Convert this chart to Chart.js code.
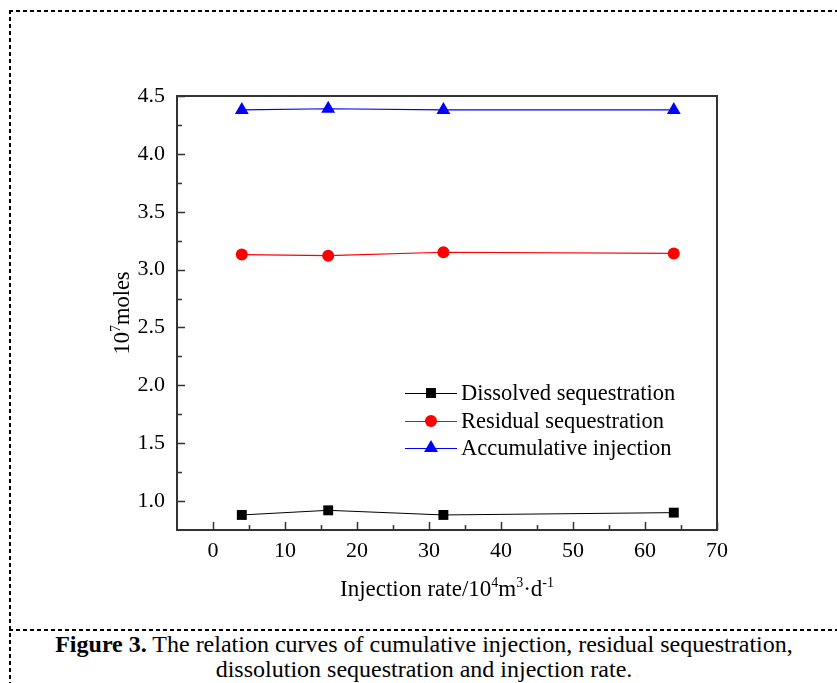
<!DOCTYPE html>
<html>
<head>
<meta charset="utf-8">
<script src="https://cdn.jsdelivr.net/npm/chart.js@4"></script>
<style>
  html, body { margin: 0; padding: 0; background: #fff; }
  body { width: 837px; height: 683px; position: relative; overflow: hidden; font-family: "Liberation Serif", "Times New Roman", serif; }
  .dash-h { position: absolute; height: 2px; background: repeating-linear-gradient(to right, #000 0 4px, transparent 4px 7px); }
  .dash-v { position: absolute; width: 2px; background: repeating-linear-gradient(to bottom, #000 0 4px, transparent 4px 7px); }
  #wrap { position: absolute; left: 0; top: 0; width: 837px; height: 630px; }
  #caption { position: absolute; left: 11px; right: 0; top: 632px; text-align: center; font-size: 24px; line-height: 25px; color: #000; white-space: nowrap; }
</style>
</head>
<body>
<div class="dash-h" style="left:9px; top:10px; width:828px;"></div>
<div class="dash-v" style="left:9px; top:10px; height:673px;"></div>
<div class="dash-h" style="left:9px; top:629px; width:828px;"></div>
<div id="wrap"><canvas id="chart" width="837" height="630"></canvas></div>
<div id="caption"><b>Figure 3.</b> The relation curves of cumulative injection, residual sequestration,<br>dissolution sequestration and injection rate.</div>
<script>
  // data
  const rates = [4, 16, 32, 64];
  const dissolved = [0.88, 0.92, 0.88, 0.90];
  const residual = [3.13, 3.12, 3.15, 3.14];
  const accumulative = [4.38, 4.39, 4.38, 4.38];
  const seriesNames = ["Dissolved sequestration", "Residual sequestration", "Accumulative injection"];
  const xTicks = [0, 10, 20, 30, 40, 50, 60, 70];
  const xMinor = [5, 15, 25, 35, 45, 55, 65];
  const yTicks = [1.0, 1.5, 2.0, 2.5, 3.0, 3.5, 4.0, 4.5];
  const yMinor = [1.25, 1.75, 2.25, 2.75, 3.25, 3.75, 4.25];

  const FONT = '"Liberation Serif", "Times New Roman", serif';
  const AXIS = "#333";

  const pts = (ys) => rates.map((x, i) => ({ x, y: ys[i] }));

  const styles = [
    { color: "#000", point: "rect", radius: 7, width: 1 },
    { color: "#f00", point: "circle", radius: 6, width: 1.2 },
    { color: "#00f", point: "triangle", radius: 8, width: 1.2 },
  ];

  const drawRich = (ctx, parts, x, y, size) => {
    const sup = Math.round(size * 0.62);
    let total = 0;
    parts.forEach((p) => {
      ctx.font = `${p.sup ? sup : size}px ${FONT}`;
      total += ctx.measureText(p.t).width;
    });
    let cx = x - total / 2;
    ctx.textAlign = "left";
    ctx.textBaseline = "alphabetic";
    parts.forEach((p) => {
      ctx.font = `${p.sup ? sup : size}px ${FONT}`;
      ctx.fillText(p.t, cx, p.sup ? y - size * 0.4 : y);
      cx += ctx.measureText(p.t).width;
    });
  };

  const framePlugin = {
    id: "frame",
    afterDraw(chart) {
      const { ctx, chartArea: a, scales } = chart;
      ctx.save();
      ctx.strokeStyle = AXIS;
      ctx.lineWidth = 2;
      ctx.strokeRect(a.left, a.top, a.right - a.left, a.bottom - a.top);

      // inward ticks
      ctx.lineWidth = 1.5;
      ctx.beginPath();
      const tick = (vals, len, isX) => vals.forEach((v) => {
        if (isX) {
          const px = Math.round(scales.x.getPixelForValue(v)) + 0.5;
          ctx.moveTo(px, a.bottom); ctx.lineTo(px, a.bottom - len);
        } else {
          const py = Math.round(scales.y.getPixelForValue(v)) + 0.5;
          ctx.moveTo(a.left, py); ctx.lineTo(a.left + len, py);
        }
      });
      tick(xTicks, 8, true);
      tick(xMinor, 5, true);
      tick(yTicks, 8, false);
      tick(yMinor, 5, false);
      ctx.stroke();

      // axis titles
      ctx.fillStyle = "#000";
      drawRich(ctx, [
        { t: "Injection rate/10" }, { t: "4", sup: true }, { t: "m" }, { t: "3", sup: true },
        { t: "\u00b7d" }, { t: "-1", sup: true },
      ], (a.left + a.right) / 2, 596, 23);

      ctx.save();
      ctx.translate(129, (a.top + a.bottom) / 2);
      ctx.rotate(-Math.PI / 2);
      drawRich(ctx, [{ t: "10" }, { t: "7", sup: true }, { t: "moles" }], 0, 0, 22.5);
      ctx.restore();

      // legend
      const lx = 405, lw = 52, ly = [393, 421, 448];
      const draw = Chart.helpers && Chart.helpers.drawPoint;
      styles.forEach((s, i) => {
        ctx.strokeStyle = s.color;
        ctx.lineWidth = s.width;
        ctx.beginPath();
        ctx.moveTo(lx, ly[i] + 0.5); ctx.lineTo(lx + lw, ly[i] + 0.5);
        ctx.stroke();
        ctx.fillStyle = s.color;
        if (draw) draw(ctx, { pointStyle: s.point, radius: s.radius, borderWidth: 0 }, lx + lw / 2, ly[i]);
        ctx.fillStyle = "#000";
        ctx.font = `22.5px ${FONT}`;
        ctx.textAlign = "left";
        ctx.textBaseline = "middle";
        ctx.fillText(seriesNames[i], lx + lw + 4, ly[i] + 1);
      });
      ctx.restore();
    },
  };

  const dataSets = [dissolved, residual, accumulative].map((vals, i) => ({
    label: seriesNames[i],
    data: pts(vals),
    borderColor: styles[i].color,
    backgroundColor: styles[i].color,
    borderWidth: styles[i].width,
    pointStyle: styles[i].point,
    pointRadius: styles[i].radius,
    pointBorderWidth: 0,
    tension: 0,
  }));

  new Chart(document.getElementById("chart"), {
    type: "line",
    data: { datasets: dataSets },
    options: {
      responsive: false,
      animation: false,
      layout: { padding: { left: 0, top: 96, right: 120, bottom: 0 } },
      plugins: { legend: { display: false }, tooltip: { enabled: false } },
      scales: {
        x: {
          type: "linear",
          min: -5,
          max: 70,
          grid: { display: false, drawTicks: false },
          border: { display: false },
          afterBuildTicks: (s) => { s.ticks = xTicks.map((v) => ({ value: v })); },
          afterFit: (s) => { s.height = 100; },
          ticks: { color: "#000", padding: 8, font: { family: FONT, size: 22 }, maxRotation: 0 },
        },
        y: {
          type: "linear",
          min: 0.75,
          max: 4.5,
          grid: { display: false, drawTicks: false },
          border: { display: false },
          afterBuildTicks: (s) => { s.ticks = yTicks.map((v) => ({ value: v })); },
          afterFit: (s) => { s.width = 177; },
          ticks: { color: "#000", padding: 12, font: { family: FONT, size: 22 }, callback: (v) => Number(v).toFixed(1) },
        },
      },
    },
    plugins: [framePlugin],
  });
</script>
</body>
</html>
